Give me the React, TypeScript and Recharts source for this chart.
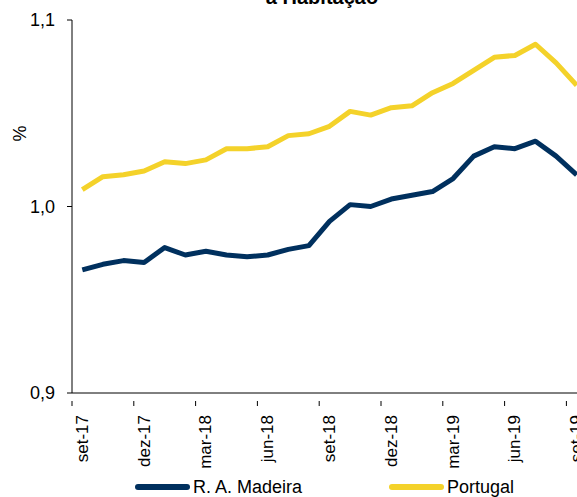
import { Legend, Line, LineChart, XAxis, YAxis } from "recharts";

const months = [
  "set-17", "out-17", "nov-17", "dez-17", "jan-18", "fev-18", "mar-18", "abr-18", "mai-18",
  "jun-18", "jul-18", "ago-18", "set-18", "out-18", "nov-18", "dez-18", "jan-19", "fev-19",
  "mar-19", "abr-19", "mai-19", "jun-19", "jul-19", "ago-19", "set-19",
];

const madeira = [
  0.966, 0.969, 0.971, 0.970, 0.978, 0.974, 0.976, 0.974, 0.973, 0.974, 0.977, 0.979, 0.992,
  1.001, 1.000, 1.004, 1.006, 1.008, 1.015, 1.027, 1.032, 1.031, 1.035, 1.027, 1.017,
];

const portugal = [
  1.009, 1.016, 1.017, 1.019, 1.024, 1.023, 1.025, 1.031, 1.031, 1.032, 1.038, 1.039, 1.043,
  1.051, 1.049, 1.053, 1.054, 1.061, 1.066, 1.073, 1.080, 1.081, 1.087, 1.077, 1.065,
];

const yTicks = [0.9, 1.0, 1.1];

const data = months.map((m, i) => ({ i, month: m, madeira: madeira[i], portugal: portugal[i] }));

// labels every 3 months, tick marks on the category boundaries
const labelIdx = months.map((_, i) => i).filter((i) => i % 3 === 0);
const xTicks = labelIdx.flatMap((i) => [i - 0.5, i]);

const NAVY = "#00305E";
const YELLOW = "#F4D22A";
const FONT = "'Liberation Sans', Arial, sans-serif";

function XTick(props: any) {
  const { x, y, payload } = props;
  const v = payload.value as number;
  if (!Number.isInteger(v)) {
    return <line x1={x} y1={y} x2={x} y2={y + 5} stroke="#000" strokeWidth={1} />;
  }
  return (
    <text
      x={x}
      y={y + 14}
      transform={`rotate(-90 ${x} ${y + 14})`}
      textAnchor="end"
      dominantBaseline="central"
      fontSize={17}
      fontFamily={FONT}
      fill="#000"
    >
      {months[v]}
    </text>
  );
}

function LegendBox() {
  const item = (color: string, label: string, left: number) => (
    <div style={{ position: "absolute", left, top: 0, display: "flex", alignItems: "center", height: 20 }}>
      <span style={{ display: "inline-block", width: 55, height: 6, borderRadius: 3, background: color, marginRight: 3 }} />
      <span style={{ fontSize: 18, fontFamily: FONT, color: "#000" }}>{label}</span>
    </div>
  );
  return (
    <div style={{ position: "relative", height: 20, width: 577 }}>
      {item(NAVY, "R. A. Madeira", 135)}
      {item(YELLOW, "Portugal", 389)}
    </div>
  );
}

export default function App() {
  return (
    <div style={{ position: "absolute", left: 0, top: 0, width: 577, height: 497, overflow: "hidden", background: "#fff" }}>
      <LineChart width={587} height={497} data={data} margin={{ top: 20, right: 0, bottom: 0, left: 0 }}>
        <text x={322} y={4} textAnchor="middle" fontSize={20} fontWeight="bold" fontFamily={FONT} fill="#000">
          a Habitação
        </text>
        <XAxis
          dataKey="i"
          type="number"
          domain={[-0.5, months.length - 0.5]}
          ticks={xTicks}
          interval={0}
          tick={<XTick />}
          tickLine={false}
          axisLine={{ stroke: "#000" }}
          height={84}
        />
        <YAxis
          domain={[0.9, 1.1]}
          ticks={yTicks}
          tickFormatter={(v: number) => v.toFixed(1).replace(".", ",")}
          width={72}
          tickSize={5}
          tickMargin={12}
          tick={{ fontSize: 18, fontFamily: FONT, fill: "#000" }}
          tickLine={{ stroke: "#000" }}
          axisLine={{ stroke: "#000" }}
          label={{ value: "%", angle: -90, position: "insideLeft", offset: 20, dy: -65, fontSize: 18, fontFamily: FONT, fill: "#000" }}
        />
        <Line dataKey="madeira" stroke={NAVY} strokeWidth={5} dot={false} isAnimationActive={false} strokeLinejoin="round" />
        <Line dataKey="portugal" stroke={YELLOW} strokeWidth={5} dot={false} isAnimationActive={false} strokeLinejoin="round" />
        <Legend verticalAlign="bottom" content={() => <LegendBox />} />
      </LineChart>
    </div>
  );
}
